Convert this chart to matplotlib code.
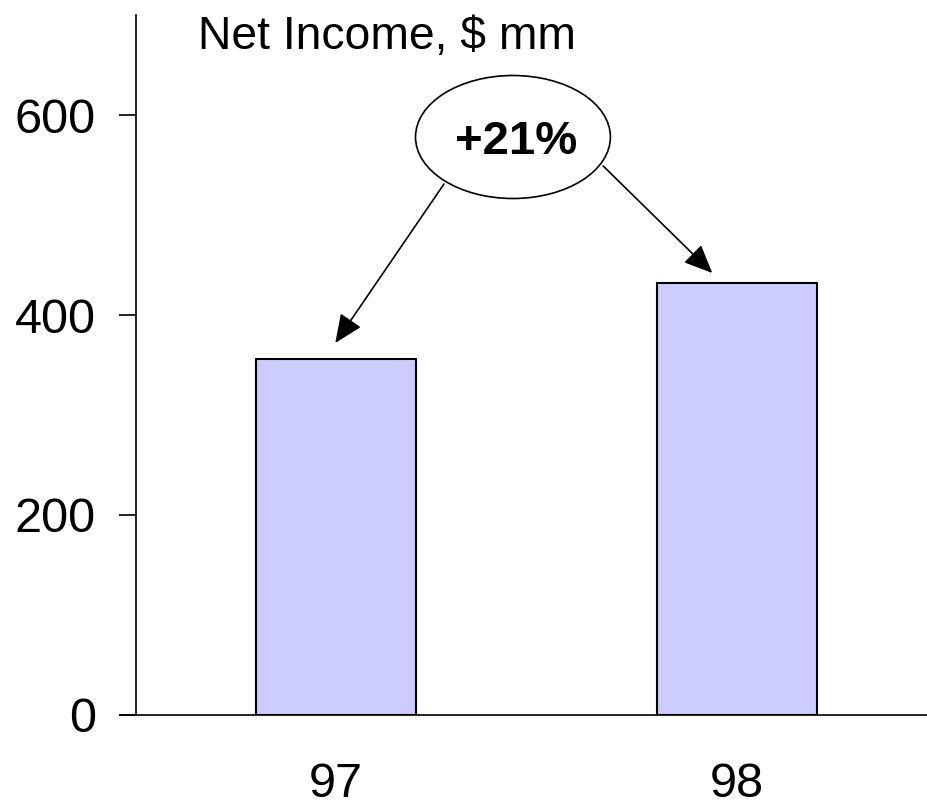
import matplotlib
matplotlib.use('Agg')
import numpy as np
from matplotlib import pyplot as plt
from matplotlib.patches import Ellipse

plt.rcParams['font.family'] = ['Liberation Sans', 'DejaVu Sans']

years = ['97', '98']
net_income = [356, 432]
yticks = [0, 200, 400, 600]
growth_label = '+21%'
title = 'Net Income, $ mm'

fig = plt.figure(figsize=(9.28, 8.10), dpi=100)
ax = fig.add_axes([136/928, 95/810, 792/928, 700/810])

x = np.arange(len(years))
ax.bar(x, net_income, width=0.4, color='#CCCCFF', edgecolor='black', linewidth=1.5, zorder=3)

ax.set_xlim(-0.499, 1.476)
ax.set_ylim(0, 700)
ax.set_yticks(yticks)
ax.set_xticks(x)
ax.set_xticklabels(years)
ax.tick_params(axis='y', direction='out', length=12, width=1.2, pad=17, labelsize=35)
ax.tick_params(axis='x', length=0, pad=34, labelsize=35)

for s in ['top', 'right', 'bottom']:
    ax.spines[s].set_visible(False)
ax.spines['left'].set_linewidth(1.2)
# x axis line runs a bit past the y axis on the left
ax.plot([-0.02, 1], [0, 0], transform=ax.transAxes, color='black', lw=1.2, clip_on=False, zorder=4)

fig.text(198/928, 1 - 49/810, title, fontsize=33.3, va='baseline', ha='left')

# growth bubble with arrows to both bars
ex, ey = 0.441, 578
ax.add_patch(Ellipse((ex, ey), 0.486, 123, facecolor='white', edgecolor='black', lw=1.2, zorder=5))
ax.text(ex + 0.007, ey - 5, growth_label, ha='center', va='center', fontsize=34, fontweight='bold', zorder=6)

starts = [(0.269, 531), (0.666, 549)]
tips = [(x[0] - 0.002, net_income[0] + 16), (x[1] - 0.062, net_income[1] + 10)]
for (sx, sy), (tx, ty) in zip(starts, tips):
    ax.annotate('', xy=(tx, ty), xytext=(sx, sy),
                arrowprops=dict(arrowstyle='-|>,head_length=0.8,head_width=0.35',
                                mutation_scale=22, lw=1.2, color='black',
                                shrinkA=0, shrinkB=0))

fig.savefig('out.png', dpi=100)
